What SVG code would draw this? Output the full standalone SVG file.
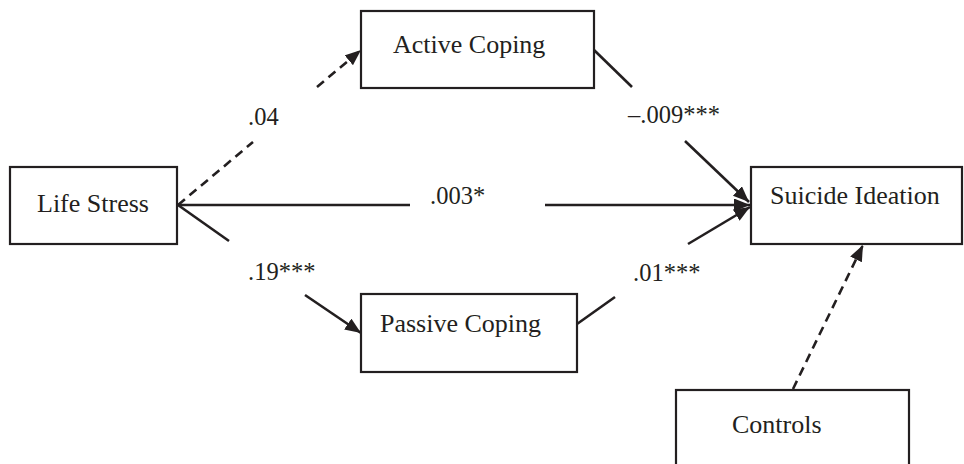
<svg xmlns="http://www.w3.org/2000/svg" width="964" height="464" viewBox="0 0 964 464">
<style>
.box{fill:#fff;stroke:#231f20;stroke-width:2.2}
.t{font-family:"Liberation Serif","Times New Roman",serif;font-size:26px;fill:#231f20}
.l{font-family:"Liberation Serif","Times New Roman",serif;font-size:24.5px;fill:#231f20}
.c{stroke:#231f20;stroke-width:2.6;fill:none}
.d{stroke-dasharray:9,6}
</style>
<defs>
<marker id="ah" markerUnits="userSpaceOnUse" markerWidth="18" markerHeight="14" refX="16" refY="6.5" orient="auto">
<path d="M0,0 L16,6.5 L0,13 z" fill="#231f20"/>
</marker>
</defs>
<rect width="964" height="464" fill="#fff"/>
<g id="connectors">
<line class="c d" x1="178" y1="205" x2="253" y2="142"/>
<line class="c d" x1="317" y1="87" x2="361" y2="50" marker-end="url(#ah)"/>
<line class="c" x1="594" y1="50" x2="632" y2="87"/>
<line class="c" x1="685" y1="141" x2="749" y2="202" marker-end="url(#ah)"/>
<line class="c" x1="178" y1="205" x2="410" y2="205"/>
<line class="c" x1="545" y1="205" x2="750" y2="205" marker-end="url(#ah)"/>
<line class="c" x1="178" y1="205" x2="229" y2="241"/>
<line class="c" x1="305" y1="295" x2="361" y2="333" marker-end="url(#ah)"/>
<line class="c" x1="577" y1="324" x2="615" y2="297"/>
<line class="c" x1="688" y1="244" x2="750" y2="207" marker-end="url(#ah)"/>
<line class="c d" x1="793" y1="389" x2="863" y2="245" marker-end="url(#ah)"/>
<text class="l" x="248" y="125">.04</text>
<text class="l" x="628" y="123">–.009***</text>
<text class="l" x="430" y="204">.003*</text>
<text class="l" x="248" y="280">.19***</text>
<text class="l" x="633" y="281">.01***</text>
</g>
<g id="life-stress">
<rect class="box" x="10" y="167" width="167" height="77"/>
<text class="t" x="37" y="212">Life Stress</text>
</g>
<g id="active-coping">
<rect class="box" x="361" y="11" width="233" height="77"/>
<text class="t" x="393" y="53">Active Coping</text>
</g>
<g id="suicide-ideation">
<rect class="box" x="751" y="167" width="211" height="77"/>
<text class="t" x="770" y="204">Suicide Ideation</text>
</g>
<g id="passive-coping">
<rect class="box" x="361" y="294" width="216" height="78"/>
<text class="t" x="380" y="332">Passive Coping</text>
</g>
<g id="controls">
<rect class="box" x="676" y="390" width="233" height="90"/>
<text class="t" x="732" y="433">Controls</text>
</g>
</svg>
